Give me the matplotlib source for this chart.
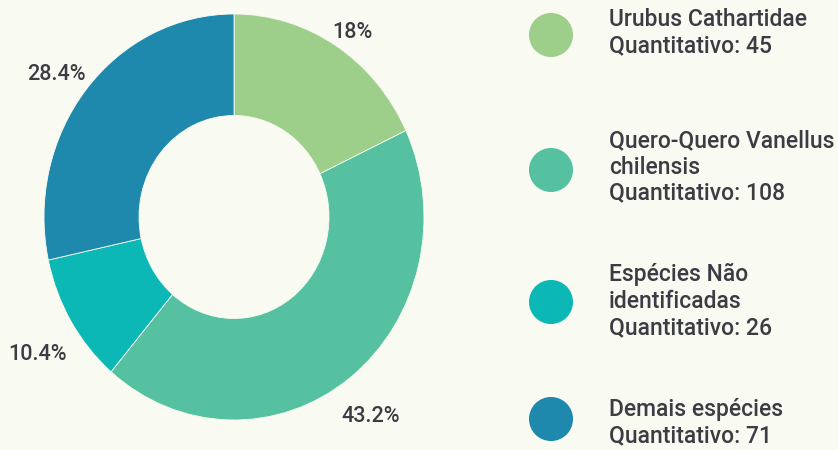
import matplotlib
matplotlib.use('Agg')
import matplotlib.pyplot as plt
import numpy as np

especies = ['Urubus Cathartidae', 'Quero-Quero Vanellus\nchilensis',
            'Espécies Não\nidentificadas', 'Demais espécies']
quantidades = [45, 108, 26, 71]
cores = ['#9dcf8b', '#55c1a1', '#0bb8b5', '#1e89ad']

fundo = '#f9faf1'
cor_texto = '#3c3c44'
plt.rcParams['font.family'] = ['Roboto', 'DejaVu Sans']

fig = plt.figure(figsize=(8.38, 4.5), dpi=100, facecolor=fundo)

# rosca (levemente esticada na vertical, como no original)
W, H = 838, 450
cx, cy, rx, ry = 234, 233, 190, 203
lim = 1.25
ax = fig.add_axes([(cx - lim * rx) / W, (cy - lim * ry) / H,
                   2 * lim * rx / W, 2 * lim * ry / H])
ax.set_facecolor('none')
wedges, _, autotexts = ax.pie(
    quantidades, colors=cores, startangle=90, counterclock=False,
    radius=1, wedgeprops=dict(width=0.5, edgecolor=fundo, linewidth=0.6),
    autopct=lambda p: f'{round(p, 1):g}%', pctdistance=1.18,
    textprops=dict(color=cor_texto, fontsize=15.5, fontweight='medium'))
ax.set_aspect('auto')
ax.set_xlim(-lim, lim)
ax.set_ylim(-lim, lim)

# posição de cada rótulo (distância e desvio angular, como no original)
dist_rotulos = [1.10, 1.22, 1.236, 1.17]
desvio_ang = [-2.0, -1.2, 2.4, 2.1]
for w, t, d, da in zip(wedges, autotexts, dist_rotulos, desvio_ang):
    ang = np.deg2rad((w.theta1 + w.theta2) / 2 + da)
    t.set_position((d * np.cos(ang), d * np.sin(ang)))
    t.set_clip_on(False)

# legenda manual
lax = fig.add_axes([0, 0, 1, 1])
lax.set_xlim(0, W)
lax.set_ylim(H, 0)
lax.axis('off')
pos_circ = [35, 170, 302, 419]
pos_txt = [33, 167, 301, 423]
for nome, q, cor, yc, yt in zip(especies, quantidades, cores, pos_circ, pos_txt):
    lax.scatter(551, yc, s=44 ** 2 * 0.52, color=cor, edgecolor='none')
    lax.text(609, yt, f'{nome}\nQuantitativo: {q}', va='center', ha='left',
             fontsize=16.5, fontweight='medium', color=cor_texto,
             linespacing=1.18)

fig.savefig('out.png', dpi=100, facecolor=fundo)
